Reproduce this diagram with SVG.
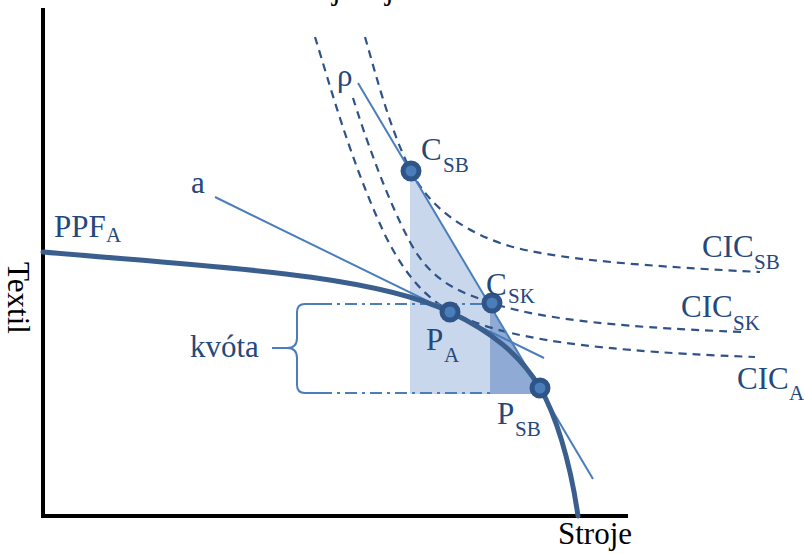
<svg xmlns="http://www.w3.org/2000/svg" width="804" height="553" viewBox="0 0 804 553">
<defs>
<style>
.lbl{font-family:"Liberation Serif","Times New Roman",serif;fill:#24487c;font-size:31px}
.sub{font-size:21px}
.blk{font-family:"Liberation Serif","Times New Roman",serif;fill:#000;font-size:31px}
.axis{stroke:#000;stroke-width:4;fill:none}
.cic{fill:none;stroke:#2f5288;stroke-width:2.2;stroke-dasharray:8 6}
.thin{fill:none;stroke:#4a7ebb;stroke-width:2}
.dd{fill:none;stroke:#4a7ebb;stroke-width:2;stroke-dasharray:12 5 3 5}
.ppf{fill:none;stroke:#3a5f8f;stroke-width:5;stroke-linecap:round}
.pt{fill:#4a7ebb;stroke:#2f5487;stroke-width:5}
</style>
</defs>
<rect width="804" height="553" fill="#fff"/>
<g id="title-fragment">
<text class="blk" x="332" y="-1">j</text>
<text class="blk" x="385" y="-1">j</text>
</g>
<g id="axes">
<line class="axis" x1="43" y1="8" x2="43" y2="518"/>
<line class="axis" x1="41" y1="516" x2="628" y2="516"/>
<text class="blk" font-size="32" transform="translate(8,262) rotate(90)">Textil</text>
<text class="blk" x="558" y="544">Stroje</text>
</g>
<g id="regions">
<polygon points="410,171 410,394 542.6,394" fill="#c8d7eb"/>
<polygon points="490,305.4 490,394 542.6,394" fill="#8eaad5"/>
</g>
<g id="connectors">
<path id="cic-sb" class="cic" d="M365,37 C376,75 390,130 411,171 C425,198 450,225 500,243 C540,257 620,265 760,272"/>
<path id="cic-sk" class="cic" d="M353,98 C363,130 385,195 410,242 C432,283 460,292 492,303 C530,316 600,327 745,332"/>
<path id="cic-a" class="cic" d="M315,37 C330,85 350,160 385,235 C405,275 425,297 450,311 C490,333 560,350 755,357"/>
<line id="line-a" class="thin" x1="215" y1="197" x2="544" y2="358"/>
<line id="line-rho" class="thin" x1="358" y1="83" x2="593" y2="479"/>
<line id="quota-top" class="dd" x1="320" y1="304" x2="490" y2="304"/>
<line id="quota-bottom" class="dd" x1="320" y1="393" x2="490" y2="393"/>
<path id="brace" class="thin" d="M320,304 H305 Q297,304 297,312 V338 Q297,348 287,348 H272 M287,348 Q297,348 297,358 V385 Q297,393 305,393 H320"/>
<path id="ppf" class="ppf" d="M43,252 C200,266 370,273 450,312 C490,331 520,354 540,388 C555,413 570,460 578,516"/>
</g>
<g id="node-CSB">
<circle class="pt" cx="411" cy="171" r="8"/>
<text class="lbl" x="421" y="160">C</text><text class="lbl sub" x="443" y="172">SB</text>
</g>
<g id="node-CSK">
<circle class="pt" cx="492" cy="303" r="8"/>
<text class="lbl" x="486" y="295">C</text><text class="lbl sub" x="508" y="303">SK</text>
</g>
<g id="node-PA">
<circle class="pt" cx="450" cy="312" r="8"/>
<text class="lbl" x="426" y="350">P</text><text class="lbl sub" x="444" y="362">A</text>
</g>
<g id="node-PSB">
<circle class="pt" cx="540" cy="388" r="8"/>
<text class="lbl" x="497" y="424">P</text><text class="lbl sub" x="515" y="436">SB</text>
</g>
<g id="labels">
<text class="lbl" x="54" y="237">PPF</text><text class="lbl sub" x="106" y="242">A</text>
<text class="lbl" x="191" y="193">a</text>
<text class="lbl" x="337" y="86">ρ</text>
<text class="lbl" x="190" y="357">kvóta</text>
<text class="lbl" x="702" y="257">CIC</text><text class="lbl sub" x="754" y="269">SB</text>
<text class="lbl" x="681" y="317">CIC</text><text class="lbl sub" x="733" y="330">SK</text>
<text class="lbl" x="737" y="389">CIC</text><text class="lbl sub" x="789" y="400">A</text>
</g>
</svg>
